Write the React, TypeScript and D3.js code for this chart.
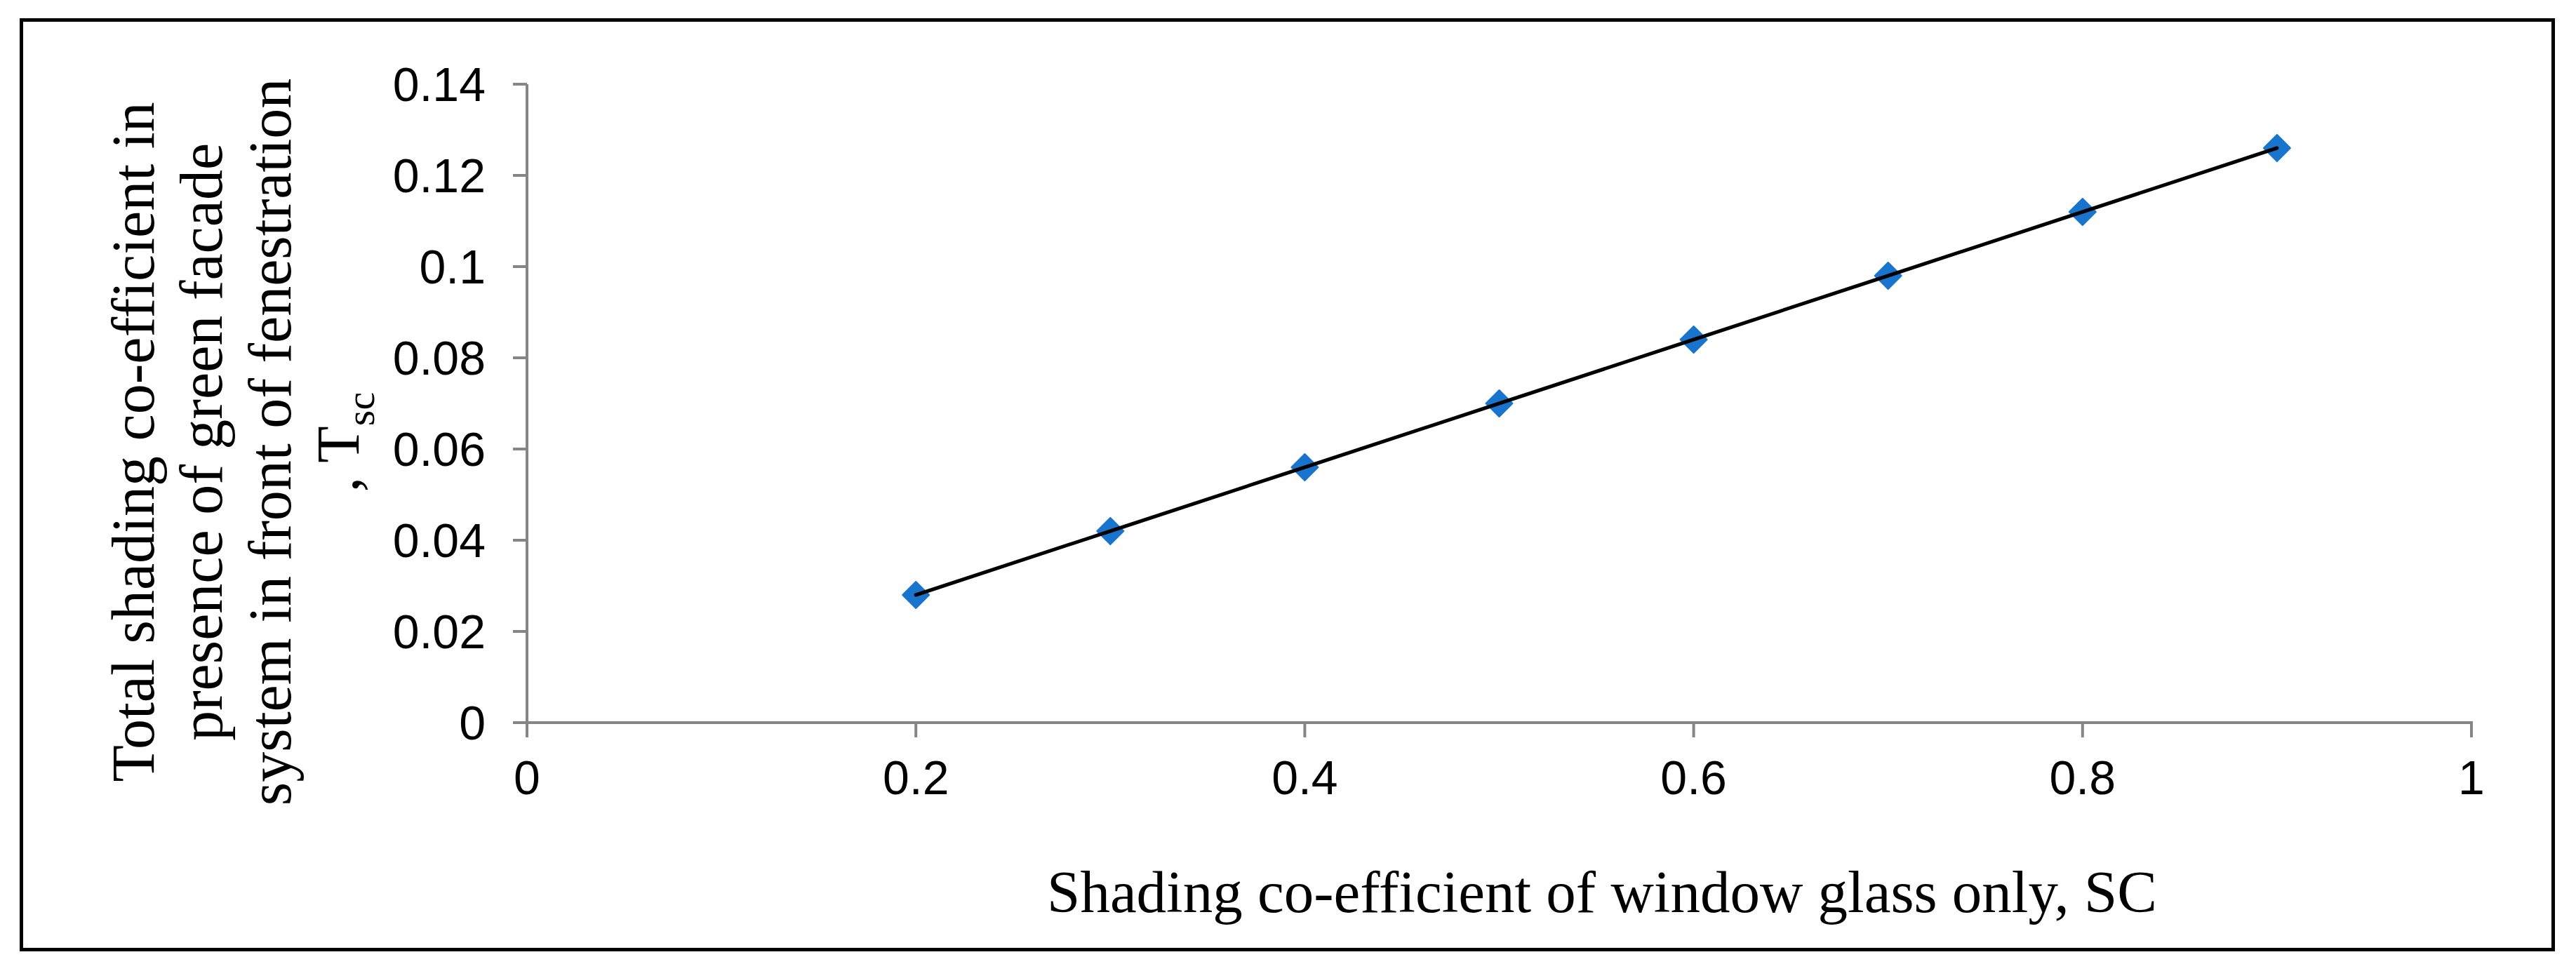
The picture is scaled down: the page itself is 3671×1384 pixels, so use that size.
import * as d3 from "d3";
import { useEffect } from "react";

// Shading co-efficient of the glass alone (SC) against the total one with
// the green facade in front of it (Tsc).
const scValues = [0.2, 0.3, 0.4, 0.5, 0.6, 0.7, 0.8, 0.9];
const tscValues = [0.028, 0.042, 0.056, 0.07, 0.084, 0.098, 0.112, 0.126];
const xTicks = [0, 0.2, 0.4, 0.6, 0.8, 1];
const yTicks = [0, 0.02, 0.04, 0.06, 0.08, 0.1, 0.12, 0.14];
const yTitleLines = [
  "Total shading co-efficient in",
  "presence of green facade",
  "system in front of fenestration",
];

const W = 3671;
const H = 1384;
const axisColor = "#868686";
const markerColor = "#1874cd";
const sans = "'Liberation Sans', Arial, sans-serif";
const serif = "'Liberation Serif', 'Times New Roman', serif";

export default function App() {
  useEffect(() => {
    document.body.style.margin = "0";
  }, []);

  const x = d3.scaleLinear().domain([0, 1]).range([751, 3522]);
  const y = d3.scaleLinear().domain([0, 0.14]).range([1030, 120]);

  const pts = scValues.map((v, i) => [v, tscValues[i]] as [number, number]);
  const line = d3
    .line<[number, number]>()
    .x((d) => x(d[0]))
    .y((d) => y(d[1]));

  const diamond = (cx: number, cy: number) =>
    `M${cx},${cy - 19}L${cx + 19},${cy}L${cx},${cy + 19}L${cx - 19},${cy}Z`;

  // rotated title is centred on this y, each line one baseline to the right
  const titleCy = 630;
  const titleX = [219, 316, 414, 511];

  return (
    <svg width={W} height={H} viewBox={`0 0 ${W} ${H}`} style={{ display: "block" }}>
      <rect x={0} y={0} width={W} height={H} fill="#fff" />
      <rect x={30.5} y={28.5} width={3608} height={1325} fill="#fff" stroke="#000" strokeWidth={5} />

      {/* y axis */}
      <line x1={x(0)} x2={x(0)} y1={y(0.14)} y2={y(0)} stroke={axisColor} strokeWidth={4} />
      {yTicks.map((t) => (
        <g key={"y" + t}>
          <line x1={x(0) - 20} x2={x(0)} y1={y(t)} y2={y(t)} stroke={axisColor} strokeWidth={4} />
          <text
            x={692}
            y={y(t)}
            dy="0.35em"
            textAnchor="end"
            fontFamily={sans}
            fontSize={68}
            fill="#000"
          >
            {String(t)}
          </text>
        </g>
      ))}

      {/* x axis */}
      <line x1={x(0) - 20} x2={x(1) + 2} y1={y(0)} y2={y(0)} stroke={axisColor} strokeWidth={4} />
      {xTicks.map((t) => (
        <g key={"x" + t}>
          <line x1={x(t)} x2={x(t)} y1={y(0)} y2={y(0) + 21} stroke={axisColor} strokeWidth={4} />
          <text x={x(t)} y={1132} textAnchor="middle" fontFamily={sans} fontSize={68} fill="#000">
            {String(t)}
          </text>
        </g>
      ))}

      {/* markers then the fitted line on top */}
      {pts.map((d, i) => (
        <path
          key={"m" + i}
          d={diamond(x(d[0]), y(d[1]))}
          fill={markerColor}
          stroke={markerColor}
          strokeWidth={2}
          strokeLinejoin="round"
        />
      ))}
      <path d={line(pts) ?? ""} fill="none" stroke="#000" strokeWidth={5} strokeLinecap="round" />

      {/* axis titles */}
      <text x={2283} y={1300} textAnchor="middle" fontFamily={serif} fontSize={85} fill="#000">
        Shading co-efficient of window glass only, SC
      </text>
      {yTitleLines.map((s, i) => (
        <text
          key={"t" + i}
          transform={`translate(${titleX[i]},${titleCy}) rotate(-90)`}
          textAnchor="middle"
          fontFamily={serif}
          fontSize={86}
          fill="#000"
        >
          {s}
        </text>
      ))}
      <text
        transform={`translate(${titleX[3]},${titleCy}) rotate(-90)`}
        textAnchor="middle"
        fontFamily={serif}
        fontSize={86}
        fill="#000"
      >
        , T
        <tspan fontSize={58} dy={22}>
          sc
        </tspan>
      </text>
    </svg>
  );
}
